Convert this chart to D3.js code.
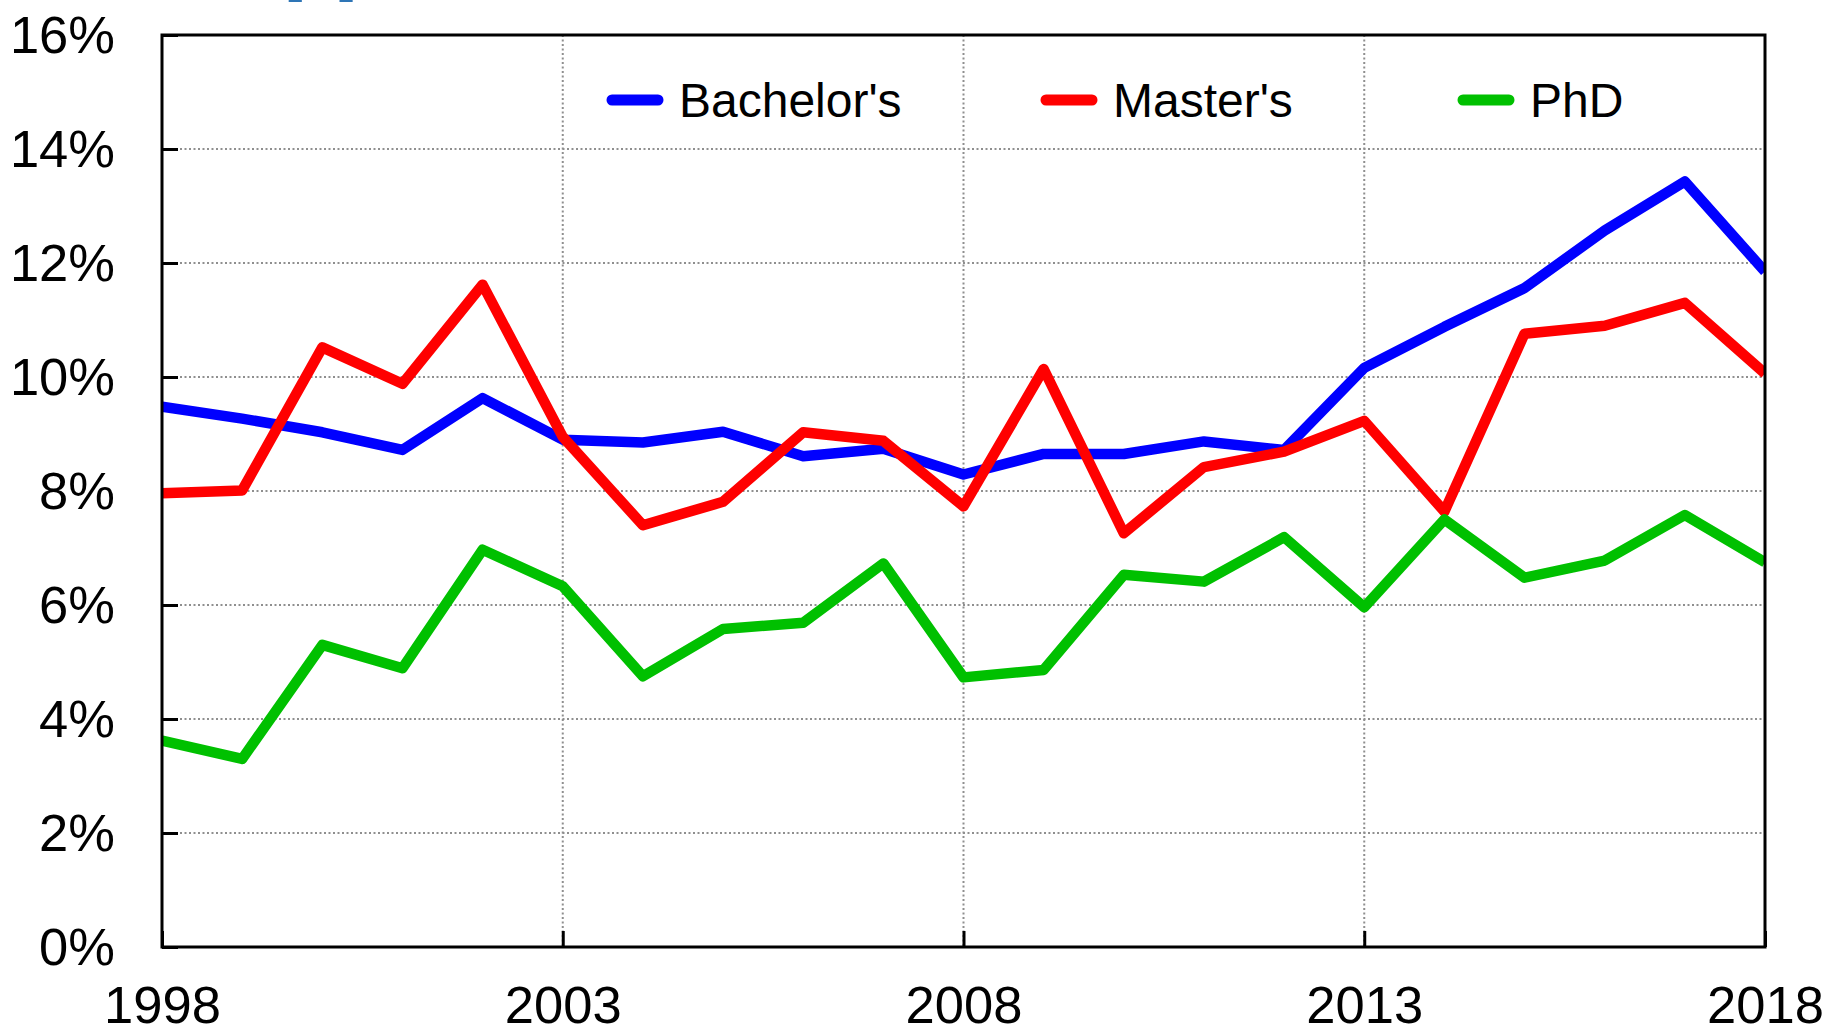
<!DOCTYPE html>
<html>
<head>
<meta charset="utf-8">
<script src="https://cdn.jsdelivr.net/npm/d3@7"></script>
<style>
  html, body { margin: 0; padding: 0; background: #fff; }
  svg { display: block; }
  text { font-family: "Liberation Sans", Arial, sans-serif; fill: #000; }
</style>
</head>
<body>
<svg id="chart" width="1828" height="1035"></svg>
<script>
const years = d3.range(1998, 2019);
const bachelors = [9.48, 9.27, 9.03, 8.72, 9.63, 8.90, 8.85, 9.04, 8.61, 8.74, 8.29, 8.65, 8.65, 8.87, 8.72, 10.16, 10.88, 11.56, 12.57, 13.43, 11.85];
const masters   = [7.96, 8.01, 10.52, 9.88, 11.62, 8.95, 7.40, 7.81, 9.03, 8.88, 7.73, 10.14, 7.26, 8.42, 8.69, 9.23, 7.64, 10.76, 10.90, 11.30, 10.06];
const phd       = [3.62, 3.30, 5.30, 4.89, 6.97, 6.33, 4.75, 5.58, 5.69, 6.73, 4.73, 4.86, 6.53, 6.41, 7.19, 5.96, 7.50, 6.48, 6.78, 7.58, 6.75];
const seriesNames = ["Bachelor's", "Master's", "PhD"];
const seriesColors = ["#0000ff", "#ff0000", "#00c000"];
const xTicks = [1998, 2003, 2008, 2013, 2018];
const yTicks = [0, 2, 4, 6, 8, 10, 12, 14, 16];

const svg = d3.select("#chart");
const L = 162, R = 1765, T = 35, B = 947;
const x = d3.scaleLinear().domain([1998, 2018]).range([L, R]);
const y = d3.scaleLinear().domain([0, 16]).range([B, T]);

// cut-off blue heading at the top
svg.append("text").attr("x", 284).attr("y", -12)
  .attr("font-size", 66).style("fill", "#2e75b6").text("[a]");

// grid
const grid = svg.append("g").attr("stroke", "#8f8f8f").attr("stroke-width", 2)
  .attr("stroke-dasharray", "2,2.5");
grid.selectAll("line.h").data(yTicks.filter(v => v > 0 && v < 16)).join("line")
  .attr("x1", L).attr("x2", R).attr("y1", d => y(d)).attr("y2", d => y(d));
grid.selectAll("line.v").data(xTicks.filter(v => v > 1998 && v < 2018)).join("line")
  .attr("class", "v")
  .attr("y1", T).attr("y2", B).attr("x1", d => x(d)).attr("x2", d => x(d));

// axes (ticks inward)
const yAxis = d3.axisLeft(y).tickValues(yTicks).tickSize(-16).tickPadding(47)
  .tickFormat(d => d + "%");
const gy = svg.append("g").attr("transform", `translate(${L},0)`).call(yAxis);
gy.select(".domain").remove();
gy.selectAll(".tick line").attr("stroke", "#000").attr("stroke-width", 3);
gy.selectAll(".tick text").attr("font-size", 52.5).attr("dy", "0.33em")
  .style("font-family", '"Liberation Sans", Arial, sans-serif');

const xAxis = d3.axisBottom(x).tickValues(xTicks).tickSize(-16).tickPadding(0)
  .tickFormat(d3.format("d"));
const gx = svg.append("g").attr("transform", `translate(0,${B})`).call(xAxis);
gx.select(".domain").remove();
gx.selectAll(".tick line").attr("stroke", "#000").attr("stroke-width", 3);
gx.selectAll(".tick text").attr("font-size", 52.5).attr("y", 76).attr("dy", 0)
  .style("font-family", '"Liberation Sans", Arial, sans-serif');

// lines
const data = [bachelors, masters, phd];
const line = d3.line().x((d, i) => x(years[i])).y(d => y(d));
svg.append("defs").append("clipPath").attr("id", "clip")
  .append("rect").attr("x", L).attr("y", T).attr("width", R - L).attr("height", B - T);
svg.append("g").attr("clip-path", "url(#clip)")
  .selectAll("path").data(data).join("path")
  .attr("d", line).attr("fill", "none")
  .attr("stroke", (d, i) => seriesColors[i]).attr("stroke-width", 10.5)
  .attr("stroke-linejoin", "round");

// frame
svg.append("rect").attr("x", L).attr("y", T).attr("width", R - L).attr("height", B - T)
  .attr("fill", "none").attr("stroke", "#000").attr("stroke-width", 3);

// legend
const legX = [612, 1046, 1463];
const leg = svg.append("g");
seriesNames.forEach((name, i) => {
  leg.append("line").attr("x1", legX[i]).attr("x2", legX[i] + 46)
    .attr("y1", 100).attr("y2", 100)
    .attr("stroke", seriesColors[i]).attr("stroke-width", 11).attr("stroke-linecap", "round");
  leg.append("text").attr("x", legX[i] + 67).attr("y", 117)
    .attr("font-size", 48).text(name);
});
</script>
</body>
</html>
